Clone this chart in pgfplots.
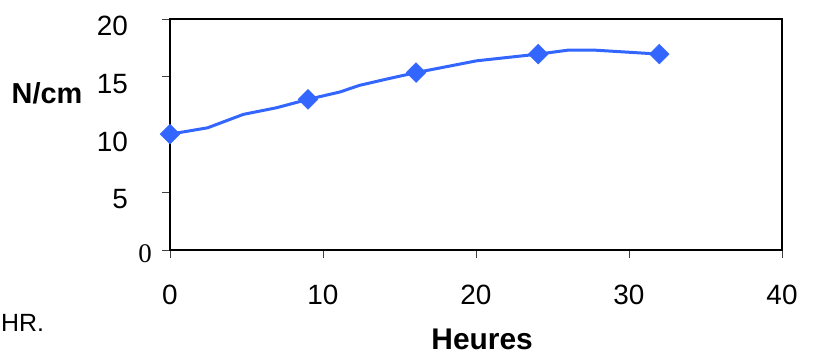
\documentclass[border=0pt]{standalone}
\usepackage{fontspec}
\setmainfont{Liberation Sans}
\newfontfamily\seriffont{Liberation Serif}
\usepackage{pgfplots}
\pgfplotsset{compat=1.18}
\definecolor{lineblue}{RGB}{51,102,255}
\begin{document}
\begin{tikzpicture}
\useasboundingbox (-170bp,-106bp) rectangle (644bp,250bp);
\begin{axis}[
  at={(0bp,0bp)}, anchor=south west,
  scale only axis, width=612bp, height=231bp,
  xmin=0, xmax=40, ymin=0, ymax=20,
  xtick={0,10,20,30,40}, xticklabels={0,10,20,30,40},
  ytick={0,5,10,15,20},
  yticklabels={{},5,10,15,20},
  tick align=outside, xtick pos=bottom, ytick pos=left,
  major tick length=8bp,
  tick style={line width=0.9bp, color=black!75},
  axis line style={line width=2.8bp},
  ticklabel style={font=\fontsize{28}{32}\selectfont, inner sep=0pt},
  xticklabel style={anchor=north},
  xticklabel shift=27bp,
  yticklabel style={anchor=east, yshift=-7bp},
  yticklabel shift=34bp,
  xlabel={Heures},
  xlabel style={font=\fontsize{30}{34}\selectfont\bfseries, at={(axis description cs:0.51,0)}, anchor=center, yshift=-89bp},
  ylabel={N/cm},
  ylabel style={font=\fontsize{29}{34}\selectfont\bfseries, rotate=-90, at={(axis description cs:0,0.678)}, anchor=center, xshift=-123bp},
  clip=false,
]
\addplot[color=lineblue, line width=3bp, mark=none] coordinates {
  (0,10.03) (2.46,10.58) (4.79,11.74) (6.97,12.32) (9.02,13.04)
  (11.1,13.68) (12.4,14.26) (14.4,14.87) (16.08,15.36) (20.04,16.38)
  (24.07,16.96) (26.0,17.3) (27.8,17.3) (31.98,16.96)
};
\addplot[only marks, mark=square*, mark size=7bp, color=lineblue, mark options={rotate=45}] coordinates {
  (0,10.03) (9.02,13.04) (16.08,15.36) (24.07,16.96) (31.98,16.96)
};
\node[anchor=east, inner sep=0pt, font=\seriffont\fontsize{27}{30}\selectfont, xshift=-18bp, yshift=-4bp] at (axis description cs:0,0) {0};
\end{axis}
\node[anchor=west, inner sep=0pt, font=\fontsize{25}{30}\selectfont] at (-169bp,-73bp) {HR.};
\end{tikzpicture}
\end{document}
